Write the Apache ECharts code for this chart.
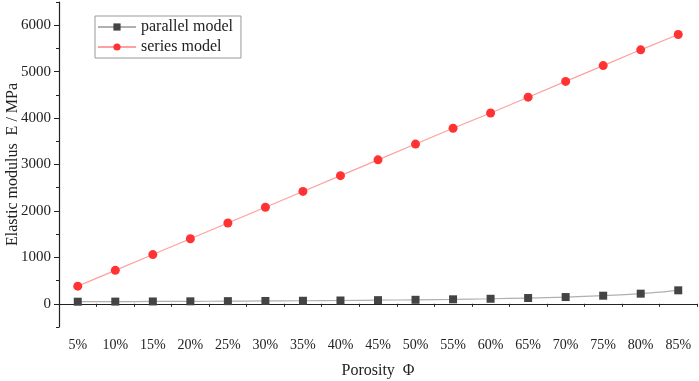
<!DOCTYPE html>
<html>
<head>
<meta charset="utf-8">
<script src="https://cdn.jsdelivr.net/npm/echarts@6/dist/echarts.min.js"></script>
<style>
  html, body { margin: 0; padding: 0; background: #fff; }
  #chart { width: 699px; height: 381px; }
</style>
</head>
<body>
<div id="chart"></div>
<script>
// porosity categories
const porosity = ["5%", "10%", "15%", "20%", "25%", "30%", "35%", "40%", "45%",
                  "50%", "55%", "60%", "65%", "70%", "75%", "80%", "85%"];
// elastic modulus, MPa
const parallelModel = [45, 47, 50, 53, 57, 61, 65, 71, 78, 86, 96, 108, 124, 145, 174, 218, 290];
const seriesModel = [380, 720, 1060, 1400, 1740, 2080, 2420, 2760, 3100, 3440, 3780, 4110, 4450, 4790, 5130, 5470, 5800];
const yTicks = [0, 1000, 2000, 3000, 4000, 5000, 6000];

let chart = echarts.init(document.getElementById("chart"));
const font = "Liberation Serif";

let option = {
    animation: false,
    grid: { left: 59, right: 2, top: 2, bottom: 54, containLabel: false, outerBoundsMode: "none" },
    legend: {
        left: 95,
        top: 16,
        orient: "vertical",
        data: ["parallel model", "series model"],
        borderColor: "#999",
        borderWidth: 1,
        padding: [3, 8, 3, 2],
        itemWidth: 38,
        itemHeight: 9,
        itemGap: 4,
        textStyle: { fontFamily: font, fontSize: 16, color: "#222" }
    },
    xAxis: [
        {
            type: "category",
            data: porosity,
            boundaryGap: true,
            name: "Porosity  Φ",
            nameLocation: "middle",
            nameGap: 36,
            nameMoveOverlap: false,
            nameTextStyle: { fontFamily: font, fontSize: 16, color: "#222" },
            axisLine: { lineStyle: { color: "#222", width: 1.2 } },
            axisTick: { alignWithLabel: true, inside: false, length: 5, lineStyle: { color: "#222" } },
            axisLabel: { fontFamily: font, fontSize: 14, color: "#222", margin: 11, interval: 0 },
            splitLine: { show: false }
        },
        {
            // minor ticks between categories
            type: "value",
            min: 0,
            max: 17,
            interval: 1,
            position: "bottom",
            axisLine: { show: false },
            axisTick: { length: 3, lineStyle: { color: "#222" } },
            axisLabel: { show: false },
            splitLine: { show: false }
        }
    ],
    yAxis: [
        {
            type: "value",
            min: -500,
            max: 6500,
            name: "Elastic modulus  E / MPa",
            nameLocation: "middle",
            nameGap: 38,
            nameMoveOverlap: false,
            nameTextStyle: { fontFamily: font, fontSize: 16, color: "#222" },
            axisLine: { show: true, lineStyle: { color: "#222", width: 1.2 } },
            axisTick: { show: true, length: 5, customValues: yTicks, lineStyle: { color: "#222" } },
            axisLabel: {
                fontFamily: font, fontSize: 15, color: "#222", margin: 8, customValues: yTicks,
                formatter: v => String(v)
            },
            splitLine: { show: false }
        },
        {
            // minor ticks
            type: "value",
            min: -500,
            max: 6500,
            interval: 500,
            position: "left",
            axisLine: { show: false },
            axisTick: { show: true, length: 3, lineStyle: { color: "#222" } },
            axisLabel: { show: false },
            splitLine: { show: false }
        }
    ],
    series: [
        {
            name: "parallel model",
            type: "line",
            data: parallelModel,
            smooth: 0.3,
            symbol: "rect",
            symbolSize: 8,
            itemStyle: { color: "#444" },
            lineStyle: { color: "#b0b0b0", width: 1.2 }
        },
        {
            name: "series model",
            type: "line",
            data: seriesModel,
            symbol: "circle",
            symbolSize: 9,
            itemStyle: { color: "#ff3333" },
            lineStyle: { color: "#ff9f9f", width: 1.2 }
        }
    ]
};
chart.setOption(option);
</script>
</body>
</html>
